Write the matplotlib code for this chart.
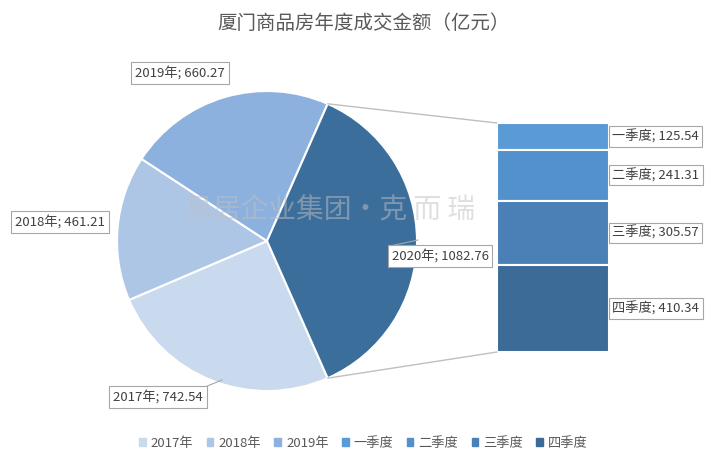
import matplotlib
matplotlib.use("Agg")
import matplotlib.pyplot as plt
from matplotlib.patches import ConnectionPatch, Patch
import numpy as np

plt.rcParams["font.family"] = ["Noto Sans CJK SC", "DejaVu Sans"]

years = ["2017年", "2018年", "2019年"]
year_vals = [742.54, 461.21, 660.27]
other_label = "2020年"
quarters = ["一季度", "二季度", "三季度", "四季度"]
q_vals = [125.54, 241.31, 305.57, 410.34]

pie_colors = ["#c9d9ee", "#adc6e6", "#8db1de", "#3c6e9c"]
bar_colors = ["#5b9bd5", "#5291cb", "#4a80b6", "#3c6b98"]

W, H = 727, 461
fig = plt.figure(figsize=(W/100, H/100), dpi=100)
ax = fig.add_axes([0, 0, 1, 1])
ax.set_xlim(0, W); ax.set_ylim(0, H); ax.axis("off")

total_2020 = sum(q_vals)
vals = year_vals + [total_2020]
frac2020 = total_2020 / sum(vals)
start = -frac2020 * 180
cx, cy, r = 267, H - 241, 150
wedges, _ = ax.pie(vals, colors=pie_colors, startangle=start, counterclock=False,
                   center=(cx, cy), radius=r, frame=True,
                   wedgeprops=dict(edgecolor="white", linewidth=1.5))
ax.set_xlim(0, W); ax.set_ylim(0, H); ax.axis("off")

# bar axes
bx0, by0, bx1, by1 = 497, 123, 609, 352
bax = fig.add_axes([bx0/W, (H-by1)/H, (bx1-bx0)/W, (by1-by0)/H])
bottom = 0
for q, v, c in zip(quarters, q_vals, bar_colors):
    bax.bar(0, v, bottom=bottom, color=c, width=1, edgecolor="white", linewidth=1.5)
    bax.text(0.53, bottom + v/2, f"{q}; {v:.2f}", ha="left", va="center", fontsize=9.5,
             color="#404040", clip_on=False,
             bbox=dict(boxstyle="square,pad=0.25", fc="white", ec="#a6a6a6", lw=0.8))
    bottom += v
bax.set_xlim(-0.5, 0.5); bax.set_ylim(total_2020, 0); bax.axis("off")

# connectors
ang = np.deg2rad(frac2020 * 180)
for s in (1, -1):
    px, py = cx + r*np.cos(ang), cy + s*r*np.sin(ang)
    yb = 0 if s == 1 else total_2020
    con = ConnectionPatch(xyA=(px, py), coordsA=ax.transData, xyB=(-0.5, yb),
                          coordsB=bax.transData, color="#bfbfbf", lw=1)
    fig.add_artist(con)

box = dict(boxstyle="square,pad=0.3", fc="white", ec="#a6a6a6", lw=0.8)
labels = [("2017年; 742.54", 158, 397), ("2018年; 461.21", 60, 222),
          ("2019年; 660.27", 180, 73), ("2020年; 1082.76", 440, 256)]
for t, x, y in labels:
    ax.text(x, H-y, t, ha="center", va="center", fontsize=9.5, color="#404040", bbox=box)
ax.plot([205, 222], [H-387, H-380], color="#a6a6a6", lw=0.8)
ax.plot([390, 418], [H-246, H-240], color="#a6a6a6", lw=0.8)

ax.text(W/2, H-23, "厦门商品房年度成交金额（亿元）", ha="center", va="center",
        fontsize=14, color="#595959")
ax.text(330, H-210, "易居企业集团·克 而 瑞", ha="center", va="center", fontsize=20,
        color="#c0c0c0", alpha=0.5)

handles = [Patch(color=c) for c in pie_colors[:3] + bar_colors]
fig.legend(handles, years + quarters, loc="center", bbox_to_anchor=(0.5, (H-443)/H),
           ncol=7, frameon=False, fontsize=9.5, handlelength=0.5, handleheight=0.5,
           columnspacing=1.0, handletextpad=0.4, labelcolor="#595959")
fig.savefig("out.png", dpi=100)
